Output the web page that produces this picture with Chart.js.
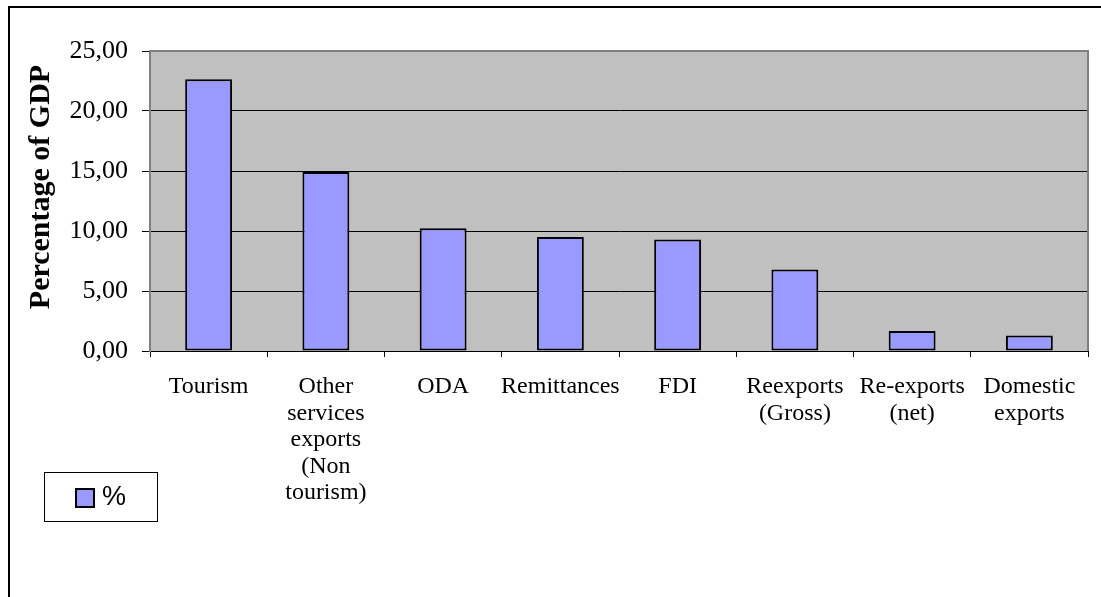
<!DOCTYPE html>
<html>
<head>
<meta charset="utf-8">
<script src="https://cdn.jsdelivr.net/npm/chart.js@4/dist/chart.umd.min.js"></script>
<style>
html,body{margin:0;padding:0;background:#fff;}
#wrap{width:1101px;height:597px;position:relative;}
</style>
</head>
<body>
<div id="wrap"><canvas id="c" width="1101" height="597"></canvas></div>
<script>
const categories = [
  "Tourism",
  ["Other", "services", "exports", "(Non", "tourism)"],
  "ODA",
  "Remittances",
  "FDI",
  ["Reexports", "(Gross)"],
  ["Re-exports", "(net)"],
  ["Domestic", "exports"]
];
const seriesLabel = "%";
const seriesValues = [22.64, 14.91, 10.23, 9.51, 9.29, 6.79, 1.66, 1.30];
const yTicks = [0, 5, 10, 15, 20, 25];
const yTitle = "Percentage of GDP";

const SERIF = "'Liberation Serif', 'Times New Roman', serif";
const SANS = "'Liberation Sans', Arial, sans-serif";

const framePlugin = {
  id: 'frame',
  beforeDraw(chart) {
    const ctx = chart.ctx, a = chart.chartArea;
    ctx.save();
    ctx.fillStyle = '#fff';
    ctx.fillRect(0, 0, chart.width, chart.height);
    ctx.strokeStyle = '#000';
    ctx.lineWidth = 2;
    ctx.beginPath();
    ctx.moveTo(9, chart.height);
    ctx.lineTo(9, 7);
    ctx.lineTo(chart.width, 7);
    ctx.stroke();
    ctx.fillStyle = '#C0C0C0';
    ctx.fillRect(a.left, a.top, a.right - a.left, a.bottom - a.top);
    ctx.restore();
  },
  afterDatasetsDraw(chart) {
    const ctx = chart.ctx, a = chart.chartArea;
    ctx.save();
    ctx.strokeStyle = '#808080';
    ctx.lineWidth = 2;
    ctx.beginPath();
    ctx.moveTo(a.left, a.top);
    ctx.lineTo(a.right, a.top);
    ctx.lineTo(a.right, a.bottom);
    ctx.stroke();
    ctx.restore();
  },
  afterDraw(chart) {
    const ctx = chart.ctx;
    const ds = chart.data.datasets[0];
    ctx.save();
    // y-axis title
    ctx.font = "bold 30px " + SERIF;
    ctx.fillStyle = '#000';
    ctx.textAlign = 'center';
    ctx.textBaseline = 'middle';
    ctx.translate(41, 187);
    ctx.rotate(-Math.PI / 2);
    ctx.fillText(yTitle, 0, 0);
    ctx.restore();
    // legend
    ctx.save();
    ctx.strokeStyle = '#000';
    ctx.lineWidth = 1;
    ctx.strokeRect(44.5, 472.5, 113, 49);
    ctx.fillStyle = ds.backgroundColor;
    ctx.fillRect(76, 489, 18, 18);
    ctx.lineWidth = 2;
    ctx.strokeRect(76, 489, 18, 18);
    ctx.fillStyle = '#000';
    ctx.font = "27px " + SANS;
    ctx.textAlign = 'left';
    ctx.textBaseline = 'middle';
    ctx.fillText(ds.label, 102, 498);
    ctx.restore();
  }
};

new Chart(document.getElementById('c'), {
  type: 'bar',
  data: {
    labels: categories,
    datasets: [{
      label: seriesLabel,
      data: seriesValues,
      backgroundColor: '#9999FF',
      borderColor: '#000',
      borderWidth: 2,
      borderSkipped: false,
      categoryPercentage: 1,
      barPercentage: 0.4
    }]
  },
  options: {
    responsive: false,
    animation: false,
    devicePixelRatio: 1,
    layout: { padding: { top: 51, right: 13, left: 0, bottom: 0 } },
    plugins: { legend: { display: false }, tooltip: { enabled: false } },
    scales: {
      x: {
        offset: true,
        grid: { display: true, drawOnChartArea: false, drawTicks: true, tickLength: 6, color: '#000', offset: true },
        border: { display: false },
        ticks: { color: '#000', font: { family: SERIF, size: 24, lineHeight: 1.1 }, padding: 17, maxRotation: 0, autoSkip: false },
        afterFit(s) { s.height = 246; }
      },
      y: {
        min: 0, max: 25,
        afterBuildTicks(s) { s.ticks = yTicks.map(v => ({ value: v })); },
        grid: {
          color: ctx => (ctx.tick && ctx.tick.value === 25) ? '#808080' : '#000',
          lineWidth: 1,
          tickLength: 8,
          tickColor: '#000'
        },
        border: { display: true, color: '#808080', width: 2 },
        ticks: {
          color: '#000',
          font: { family: SERIF, size: 26 },
          padding: 14,
          callback: v => v.toFixed(2).replace('.', ',')
        },
        afterFit(s) { s.width = 150; }
      }
    }
  },
  plugins: [framePlugin]
});
</script>
</body>
</html>
